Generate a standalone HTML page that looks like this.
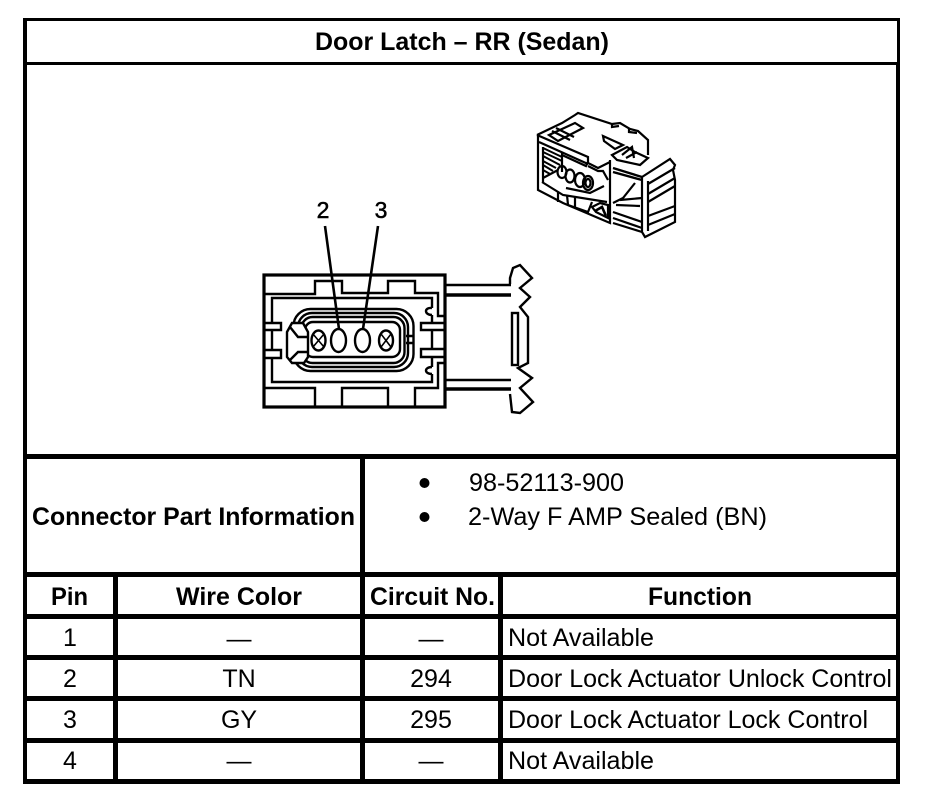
<!DOCTYPE html>
<html><head><meta charset="utf-8"><style>
html,body{margin:0;padding:0;background:#fff}
svg{display:block}
text{font-family:"Liberation Sans",Arial,sans-serif;fill:#000}
.b{font-weight:bold}
.l{stroke:#000;fill:none;stroke-linejoin:miter}
</style></head><body>
<svg width="928" height="804" viewBox="0 0 928 804" xmlns="http://www.w3.org/2000/svg">
<rect width="928" height="804" fill="#fff"/>
<g fill="#000" shape-rendering="crispEdges">
<rect x="23" y="18" width="877" height="3"/>
<rect x="23" y="18" width="4" height="766"/>
<rect x="897" y="18" width="3" height="46"/>
<rect x="896" y="62" width="4" height="722"/>
<rect x="23" y="62" width="877" height="3"/>
<rect x="23" y="454" width="877" height="5"/>
<rect x="23" y="572" width="877" height="5"/>
<rect x="23" y="614" width="877" height="5"/>
<rect x="23" y="655" width="877" height="5"/>
<rect x="23" y="696" width="877" height="5"/>
<rect x="23" y="738" width="877" height="5"/>
<rect x="23" y="779" width="877" height="5"/>
<rect x="360" y="454" width="5" height="330"/>
<rect x="113" y="572" width="5" height="212"/>
<rect x="498" y="572" width="5" height="212"/>
</g>
<text class="b" x="315" y="50" font-size="25" textLength="294" lengthAdjust="spacingAndGlyphs">Door Latch – RR (Sedan)</text>
<text class="b" x="32" y="525" font-size="25" textLength="323" lengthAdjust="spacingAndGlyphs">Connector Part Information</text>
<circle cx="424.500" cy="483" r="5"/><circle cx="424.500" cy="517" r="5"/>
<text x="469" y="491" font-size="25" textLength="155" lengthAdjust="spacingAndGlyphs">98-52113-900</text>
<text x="468" y="525" font-size="25" textLength="299" lengthAdjust="spacingAndGlyphs">2-Way F AMP Sealed (BN)</text>
<text class="b" x="51" y="605" font-size="25" textLength="37" lengthAdjust="spacingAndGlyphs">Pin</text>
<text class="b" x="176" y="605" font-size="25" textLength="126" lengthAdjust="spacingAndGlyphs">Wire Color</text>
<text class="b" x="370" y="605" font-size="25" textLength="125" lengthAdjust="spacingAndGlyphs">Circuit No.</text>
<text class="b" x="648" y="605" font-size="25" textLength="104" lengthAdjust="spacingAndGlyphs">Function</text>
<g font-size="25" text-anchor="middle">
<text x="70" y="646">1</text><text x="70" y="687">2</text><text x="70" y="728">3</text><text x="70" y="769">4</text>
<text x="239" y="647">—</text><text x="239" y="687">TN</text><text x="239" y="728">GY</text><text x="239" y="769">—</text>
<text x="431" y="647">—</text><text x="431" y="687">294</text><text x="431" y="728">295</text><text x="431" y="769">—</text>
</g>
<text x="508" y="646" font-size="25" textLength="146" lengthAdjust="spacingAndGlyphs">Not Available</text>
<text x="508" y="687" font-size="25" textLength="384" lengthAdjust="spacingAndGlyphs">Door Lock Actuator Unlock Control</text>
<text x="508" y="728" font-size="25" textLength="360" lengthAdjust="spacingAndGlyphs">Door Lock Actuator Lock Control</text>
<text x="508" y="769" font-size="25" textLength="146" lengthAdjust="spacingAndGlyphs">Not Available</text>

<!-- front connector -->
<g style="stroke:#000;stroke-width:.5">
<text x="323" y="218" font-size="23" text-anchor="middle">2</text>
<text x="381" y="218" font-size="23" text-anchor="middle">3</text>
</g>
<g class="l" stroke-width="2.400">
<path d="M264 294H315V281H342V293H388V281H415V293H438V316H445"/>
<path d="M264 388H315V407H342V388H388V407H415V388H438V363H445"/>
<path d="M272 323V298H432V308M432 315V322M432 330V349M432 357V367M432 374V382H272V358"/>
<path d="M272 330V349"/>
<path d="M265 323H281V330H265M265 350H281V358H265"/>
<path d="M445 323H421V330H445M445 349H421V357H445"/>
<path d="M432 308C424 307 424 315 432 315M432 367C424 367 424 374 432 374"/>
<path d="M445 285H511" stroke-width="2.600"/>
<path d="M445 295H511" stroke-width="3.600"/>
<path d="M445 380H511" stroke-width="2.600"/>
<path d="M445 389H511" stroke-width="3.400"/>
<path d="M510 284V278L513 268L520 265L532 278L520 288L530 297L520 307L528 317V363L518 368L532 378L520 388L533 402L520 413L512 412L510 394"/>
<rect x="512" y="313" width="6" height="52"/>
<!-- seal -->
<rect x="293.500" y="309" width="120" height="62" rx="17"/>
<rect x="298" y="313" width="110" height="54" rx="14"/>
<rect x="301.500" y="317" width="103" height="46" rx="11"/>
<rect x="305" y="322" width="95" height="35" rx="8"/>
<path d="M406 336H413M406 343H413"/>
<path d="M287 332L292 323H303L308 332V357L304 363H292L287 357Z" fill="#fff"/>
<path d="M290 327L298 337H308M290 360L298 352H308"/>
<ellipse cx="318.500" cy="340.500" rx="7" ry="10"/>
<ellipse cx="338.500" cy="340.500" rx="7.500" ry="11.500"/>
<ellipse cx="362.500" cy="340.500" rx="7.500" ry="11.500"/>
<ellipse cx="386" cy="340.500" rx="7" ry="10"/>
<path d="M313 334L324 347M324 334L313 347M381 334L391 347M391 334L381 347" stroke-width="1.600"/>
<path d="M325 226L339 329M378 226L363 329" stroke-width="2.600"/>
<rect x="264" y="275" width="181" height="132" stroke-width="3.200"/>
</g>

<!-- isometric connector -->
<g class="l" stroke-width="2.200">
<path d="M537 135L562 123L575 115L578 113L612 124L620 123L630 129L638 131L648 140V155"/>
<path d="M537 135L588 157V163L598 168L610 162"/>
<path d="M539 142L588 164"/>
<path d="M538 135V190L563 203L610 223V160"/>
<path d="M549 135L575 123L583 128L558 141Z"/>
<path d="M552 131L570 140M556 128L574 137"/>
<path d="M603 136L623 145L615 149L604 141Z"/>
<path d="M612 124V127L619 126M629 129V132L637 133"/>
<path d="M612 155L627 147L635 152L648 158L640 165L617 160Z"/>
<path d="M622 155L632 147L634 158M626 158L637 152"/>
<path d="M613 168L642 177M613 172L642 180" stroke-width="2.400"/>
<path d="M642 177L670 159L675 165L673 170L675 180V222L645 237L642 232V177"/>
<path d="M648 181V231"/>
<path d="M648 184L675 168M648 194L675 178M648 202L675 186M648 216L675 206M648 225L675 214"/>
<path d="M635 183L623 198L613 203"/>
<path d="M620 200L642 198M616 205L640 206"/>
<path d="M613 212L642 222M613 218L642 228M613 223L642 232"/>
<path d="M543 147V182M562 153V172"/>
<path d="M543 148L562 157M543 152L562 161M543 156L560 165M543 161L556 168M543 165L553 171M543 170L550 174" stroke-width="2"/>
<path d="M562 155L586 166L588 162M588 166L598 171H603L608 180"/>
<path d="M542 182L563 195L607 202"/>
<path d="M543 178L558 170M566 188L590 193L604 186"/>
<path d="M558 192V202M567 195L568 205L588 212L592 202M575 197V208"/>
<path d="M592 207L600 203L608 205L608 218L596 212Z"/>
<path d="M595 211L602 207L606 216" stroke-width="2.600"/>
<ellipse cx="562" cy="172" rx="4.500" ry="6"/><ellipse cx="570" cy="176" rx="4.500" ry="6.500"/><ellipse cx="580" cy="180" rx="5" ry="7"/><ellipse cx="588" cy="183" rx="5" ry="7"/><ellipse cx="588" cy="183" rx="2.500" ry="4"/>
</g>
</svg>
</body></html>
